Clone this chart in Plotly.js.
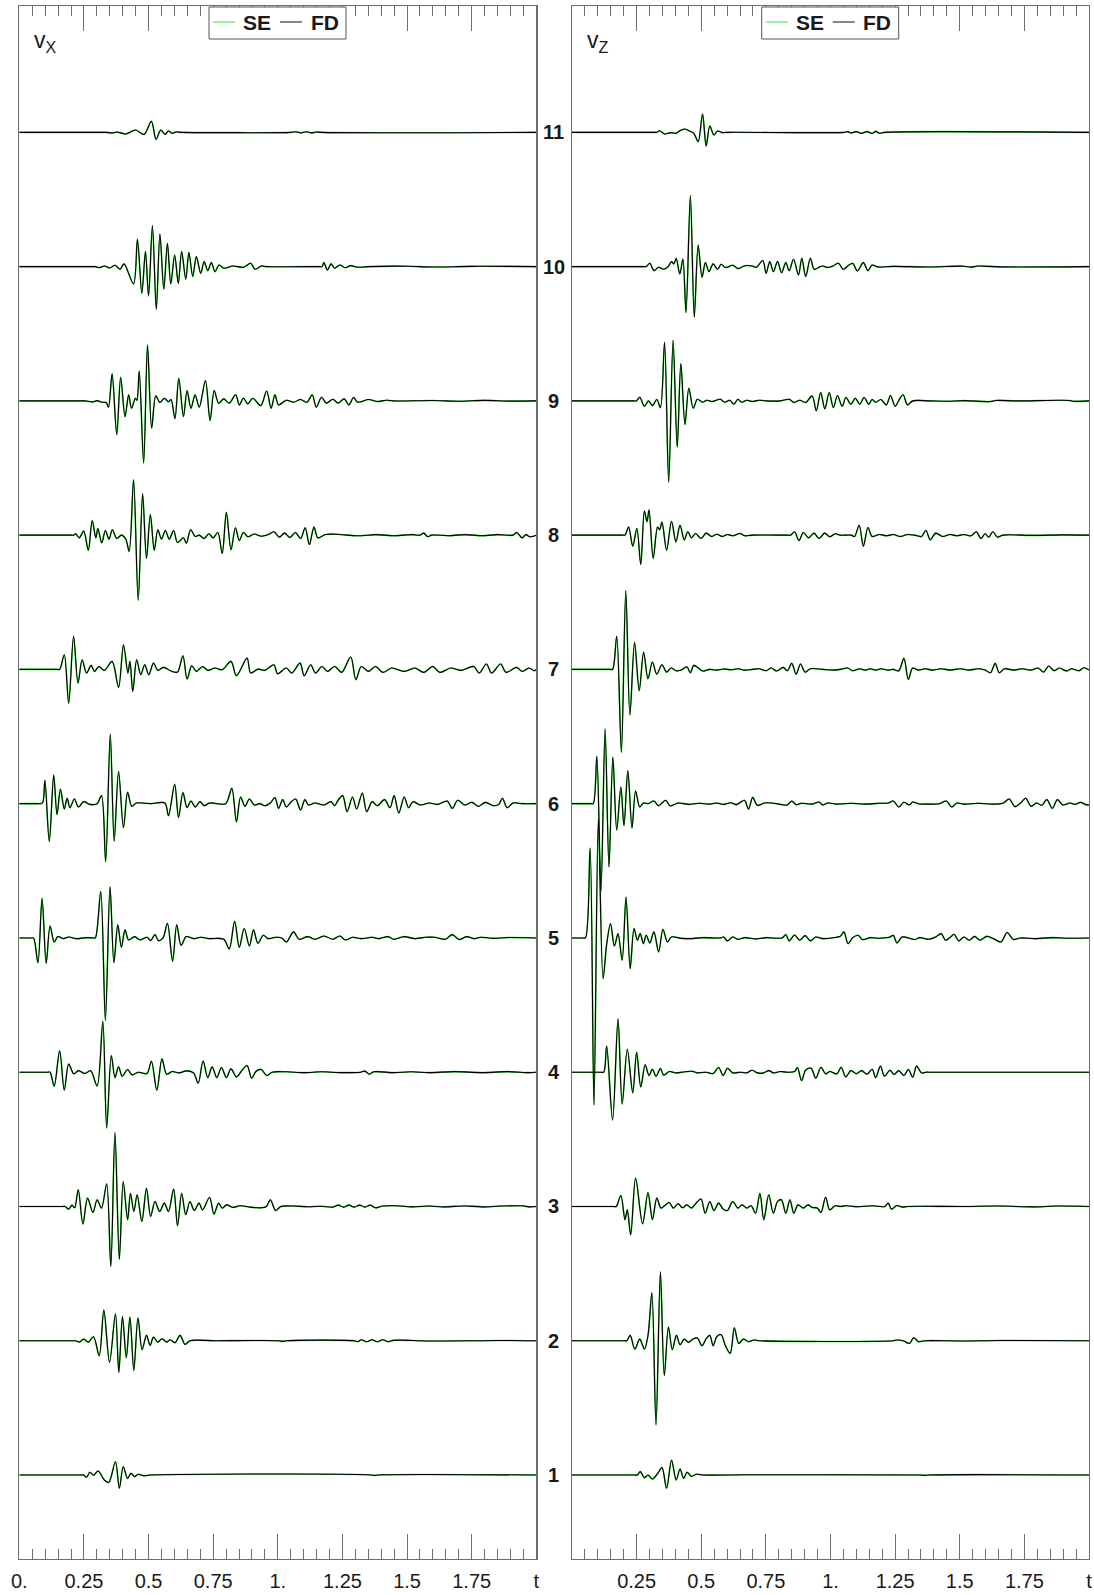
<!DOCTYPE html>
<html><head><meta charset="utf-8">
<script src="https://cdn.plot.ly/plotly-3.0.1.min.js"></script>
<style>html,body{margin:0;padding:0;background:#fff}#chart{width:1094px;height:1595px}</style>
</head><body><div id="chart"></div>
<script>
// ---------- data (time t, amplitude in trace-spacing units) ----------
const receivers = [1,2,3,4,5,6,7,8,9,10,11];
const tickValsVx = [0,0.25,0.5,0.75,1,1.25,1.5,1.75,2];
const tickTextVx = ['0.','0.25','0.5','0.75','1.','1.25','1.5','1.75','t'];
const tickValsVz = [0.25,0.5,0.75,1,1.25,1.5,1.75,2];
const tickTextVz = ['0.25','0.5','0.75','1.','1.25','1.5','1.75','t'];
const seriesNames = ['SE','FD'];

// v_x component, receivers 1..11
const vx1 = [[0,0],[0.239,0],[0.249,0],[0.260,-0.017],[0.273,0.020],[0.287,-0.002],[0.305,0.030],[0.329,-0.037],[0.346,-0.055],[0.372,0.099],[0.387,-0.099],[0.402,0.062],[0.419,-0.025],[0.432,0.012],[0.446,-0.012],[0.460,0.005],[0.481,-0.005],[0.508,0],[1.365,0],[1.372,-0.004],[1.385,0],[2,0]];
const vx2 = [[0,0],[0.208,0],[0.218,0],[0.232,-0.010],[0.249,0.012],[0.267,-0.010],[0.287,0.030],[0.309,-0.112],[0.327,0.228],[0.349,-0.161],[0.372,0.201],[0.385,-0.236],[0.399,0.181],[0.414,-0.127],[0.428,0.176],[0.443,-0.221],[0.459,0.171],[0.475,-0.067],[0.492,0.040],[0.506,-0.035],[0.519,0.027],[0.536,-0.010],[0.552,0.015],[0.570,-0.010],[0.584,0.007],[0.602,-0.015],[0.622,0.040],[0.641,-0.027],[0.660,0],[0.757,0],[1.005,0],[1.019,-0.005],[1.033,0],[1.295,0],[1.309,-0.007],[1.323,0.007],[1.344,-0.007],[1.365,0.007],[1.385,-0.007],[1.406,0.007],[1.427,-0.007],[1.448,0.003],[1.586,-0.002],[1.862,0.002],[2,0]];
const vx3 = [[0,0],[0.167,0],[0.177,0],[0.191,-0.020],[0.204,0.010],[0.214,-0.010],[0.228,0.124],[0.246,-0.131],[0.264,0.062],[0.285,-0.045],[0.301,0.050],[0.318,-0.012],[0.338,0.169],[0.354,-0.447],[0.370,0.551],[0.387,-0.392],[0.402,0.186],[0.419,-0.099],[0.430,0.099],[0.443,-0.037],[0.456,0.087],[0.474,-0.112],[0.492,0.136],[0.508,-0.074],[0.525,0.037],[0.543,-0.037],[0.561,0.025],[0.577,-0.037],[0.597,0.129],[0.612,-0.144],[0.628,0.099],[0.644,-0.062],[0.660,0.037],[0.677,-0.030],[0.695,0.025],[0.709,-0.025],[0.736,0.069],[0.753,-0.057],[0.771,0.025],[0.785,-0.012],[0.802,0.012],[0.826,-0.007],[0.853,0.005],[0.895,-0.005],[0.936,-0.010],[0.956,0],[0.971,0.050],[0.992,-0.030],[1.012,0],[1.061,0.003],[1.116,-0.002],[1.171,0.002],[1.213,-0.005],[1.234,0.010],[1.254,-0.005],[1.275,0.010],[1.296,-0.005],[1.316,0.010],[1.337,-0.005],[1.358,0.010],[1.378,-0.010],[1.406,0.003],[1.461,0.005],[1.517,-0.003],[1.586,0.003],[1.641,-0.003],[1.724,0.004],[1.793,-0.003],[1.862,0.003],[1.945,0.005],[1.972,-0.003],[2,0]];
const vx4 = [[0,0],[0.109,0],[0.119,0],[0.135,-0.104],[0.156,0.159],[0.174,-0.134],[0.191,0.060],[0.211,-0.012],[0.229,0.012],[0.253,-0.010],[0.276,0.010],[0.301,-0.102],[0.323,0.380],[0.338,-0.415],[0.356,0.124],[0.370,-0.040],[0.384,0.040],[0.398,-0.030],[0.419,0.020],[0.436,-0.020],[0.460,0],[0.494,-0.010],[0.511,0.082],[0.532,-0.134],[0.552,0.099],[0.570,-0.015],[0.591,0.005],[0.619,-0.005],[0.646,0.010],[0.674,-0.005],[0.692,-0.082],[0.711,0.084],[0.729,-0.040],[0.746,0.040],[0.764,-0.040],[0.782,0.035],[0.801,-0.040],[0.819,0.025],[0.840,-0.035],[0.860,0.010],[0.881,0.050],[0.899,-0.045],[0.915,0.005],[0.936,0.020],[0.957,-0.025],[0.978,0],[1.033,0.003],[1.102,-0.003],[1.171,0.003],[1.240,-0.003],[1.320,0],[1.337,0.008],[1.354,-0.015],[1.371,0.003],[1.448,-0.003],[1.517,0.003],[1.586,-0.003],[1.682,0.004],[1.793,-0.003],[1.890,0.004],[1.972,-0.003],[2,0]];
const vx5 = [[0,0],[0.045,0],[0.055,0],[0.072,-0.184],[0.088,0.295],[0.104,-0.189],[0.119,0.089],[0.135,-0.030],[0.149,0.010],[0.170,-0.005],[0.191,0.007],[0.218,-0.005],[0.260,0.002],[0.285,0],[0.294,0],[0.315,0.345],[0.333,-0.615],[0.351,0.380],[0.366,-0.184],[0.381,0.097],[0.395,-0.070],[0.409,0.060],[0.423,-0.015],[0.446,0.010],[0.467,-0.015],[0.494,0.005],[0.508,-0.020],[0.525,0.025],[0.538,-0.020],[0.556,0],[0.573,0.109],[0.593,-0.174],[0.609,0.097],[0.626,-0.055],[0.646,0.010],[0.674,-0.005],[0.702,0.005],[0.736,-0.005],[0.791,-0.010],[0.812,-0.082],[0.833,0.124],[0.851,-0.070],[0.870,0.070],[0.890,-0.060],[0.906,0.060],[0.923,-0.040],[0.944,0.020],[0.962,-0.005],[0.992,0.005],[1.015,0],[1.033,-0.030],[1.061,0.045],[1.082,-0.010],[1.116,0.010],[1.144,-0.010],[1.178,0.015],[1.213,-0.010],[1.240,0.015],[1.261,-0.015],[1.289,0.005],[1.323,-0.005],[1.365,0.005],[1.392,-0.005],[1.427,0.010],[1.448,-0.010],[1.489,0.010],[1.530,-0.005],[1.572,0.005],[1.606,0.005],[1.648,-0.010],[1.675,0.025],[1.702,-0.012],[1.730,0.010],[1.758,-0.005],[1.786,0.005],[1.834,-0.003],[1.890,0.003],[2,0]];
const vx6 = [[0,0],[0.073,0],[0.083,0],[0.091,0.010],[0.099,0.174],[0.116,-0.283],[0.133,0.213],[0.146,-0.082],[0.159,0.109],[0.174,-0.040],[0.185,0.040],[0.196,-0.030],[0.213,0.035],[0.229,-0.025],[0.249,0.015],[0.273,-0.005],[0.301,0],[0.318,0.060],[0.334,-0.432],[0.352,0.518],[0.367,-0.280],[0.384,0.241],[0.403,-0.179],[0.419,0.084],[0.435,-0.020],[0.453,0.005],[0.508,0],[0.563,0.005],[0.577,-0.089],[0.601,0.144],[0.616,-0.102],[0.633,0.082],[0.649,-0.030],[0.664,0.020],[0.681,-0.025],[0.699,0.015],[0.715,-0.015],[0.736,0.005],[0.798,0],[0.822,0.114],[0.840,-0.136],[0.856,0.050],[0.873,-0.020],[0.890,0.035],[0.909,-0.010],[0.930,0],[0.950,-0.015],[0.971,0.005],[0.989,0.045],[1.003,-0.035],[1.019,0.030],[1.033,-0.025],[1.050,0.010],[1.069,0.035],[1.088,-0.047],[1.105,0.030],[1.119,-0.010],[1.144,0.005],[1.178,-0.010],[1.206,0.015],[1.220,-0.015],[1.233,0.025],[1.251,0.060],[1.268,-0.060],[1.289,0.050],[1.305,-0.040],[1.327,0.080],[1.344,-0.060],[1.365,0.015],[1.385,-0.015],[1.413,0.030],[1.434,-0.030],[1.450,0.060],[1.468,-0.070],[1.489,0.050],[1.506,-0.030],[1.523,0.015],[1.551,-0.010],[1.586,0.005],[1.620,-0.005],[1.655,0.020],[1.675,-0.035],[1.696,0.025],[1.724,-0.010],[1.751,0.010],[1.776,-0.020],[1.803,0.010],[1.834,-0.015],[1.855,-0.005],[1.869,0.040],[1.887,-0.030],[1.910,0.005],[1.945,0],[2,0]];
const vx7 = [[0,0],[0.146,0],[0.156,0],[0.174,0.109],[0.191,-0.251],[0.210,0.246],[0.227,-0.102],[0.243,0.072],[0.260,-0.027],[0.278,0.030],[0.291,-0.015],[0.308,0.022],[0.329,-0.007],[0.359,0.060],[0.384,-0.134],[0.403,0.184],[0.420,-0.027],[0.428,0.060],[0.439,-0.164],[0.454,0.072],[0.470,-0.040],[0.485,0.035],[0.501,-0.040],[0.519,0.047],[0.536,-0.007],[0.557,0.015],[0.591,-0.015],[0.612,-0.020],[0.633,0.102],[0.649,-0.072],[0.667,0.027],[0.685,-0.015],[0.709,0.022],[0.729,-0.007],[0.757,0.010],[0.785,-0.002],[0.819,0.060],[0.840,-0.047],[0.881,0.084],[0.895,-0.027],[0.923,0.002],[0.950,-0.007],[0.985,0.035],[0.999,-0.032],[1.033,0.010],[1.054,-0.027],[1.086,0.047],[1.102,-0.047],[1.127,0.035],[1.146,-0.027],[1.171,0.022],[1.192,-0.015],[1.220,0.022],[1.247,-0.022],[1.282,0.092],[1.302,-0.077],[1.323,0.022],[1.351,-0.015],[1.378,0.022],[1.406,-0.022],[1.441,0.010],[1.489,-0.015],[1.530,0.010],[1.565,-0.022],[1.599,0.022],[1.627,-0.022],[1.669,0.010],[1.710,-0.007],[1.758,0.022],[1.779,-0.027],[1.807,0.040],[1.827,-0.027],[1.862,0.040],[1.883,-0.022],[1.924,0.015],[1.945,-0.015],[1.972,0.010],[1.993,-0.010],[2,0]];
const vx8 = [[0,0],[0.201,0],[0.211,0],[0.218,0.010],[0.232,-0.020],[0.249,0.030],[0.267,-0.112],[0.282,0.109],[0.296,-0.020],[0.304,0.050],[0.319,-0.057],[0.333,0.035],[0.347,-0.030],[0.360,0.040],[0.377,-0.025],[0.395,0],[0.412,-0.030],[0.425,-0.122],[0.442,0.412],[0.460,-0.486],[0.477,0.310],[0.492,-0.174],[0.507,0.154],[0.522,-0.112],[0.536,0.040],[0.550,-0.030],[0.565,0.035],[0.580,-0.030],[0.597,0.035],[0.612,-0.055],[0.635,-0.020],[0.646,-0.060],[0.663,0.040],[0.681,-0.010],[0.696,0],[0.715,-0.025],[0.733,0.010],[0.750,-0.020],[0.768,0.020],[0.785,-0.137],[0.801,0.171],[0.819,-0.109],[0.836,0.055],[0.851,-0.040],[0.867,0.020],[0.884,-0.012],[0.909,0.008],[0.936,-0.008],[0.964,0.005],[0.985,0.025],[1.006,-0.015],[1.026,0.015],[1.047,-0.017],[1.068,0.020],[1.088,-0.025],[1.106,0.055],[1.122,-0.070],[1.140,0.060],[1.155,-0.020],[1.185,0.005],[1.240,0.005],[1.309,-0.005],[1.380,0.004],[1.448,-0.004],[1.520,0.004],[1.550,0],[1.565,0.015],[1.580,-0.012],[1.595,0],[1.660,-0.004],[1.724,0.004],[1.790,-0.004],[1.850,0.004],[1.910,0],[1.924,0.020],[1.945,-0.020],[1.960,0.004],[1.975,-0.012],[2,0]];
const vx9 = [[0,0],[0.243,0],[0.253,0],[0.285,-0.007],[0.301,0.002],[0.319,-0.010],[0.336,-0.012],[0.345,-0.047],[0.359,0.201],[0.377,-0.253],[0.392,0.176],[0.409,-0.117],[0.423,0.045],[0.434,-0.055],[0.449,0.020],[0.455,0.005],[0.464,0.223],[0.481,-0.464],[0.496,0.417],[0.512,-0.203],[0.528,0.037],[0.544,-0.012],[0.561,0.020],[0.577,-0.007],[0.587,0.010],[0.602,-0.132],[0.617,0.169],[0.635,-0.117],[0.649,0.077],[0.664,-0.055],[0.680,0.045],[0.696,-0.047],[0.720,0.151],[0.738,-0.146],[0.754,0.077],[0.771,-0.017],[0.791,0.015],[0.812,-0.017],[0.837,0.045],[0.851,-0.030],[0.867,0.020],[0.884,-0.022],[0.903,0.020],[0.934,-0.035],[0.957,0.074],[0.974,-0.055],[0.989,0.045],[1.003,-0.030],[1.033,0.005],[1.061,-0.010],[1.088,0.010],[1.113,-0.010],[1.133,0.045],[1.149,-0.047],[1.169,0.027],[1.188,-0.017],[1.213,0.012],[1.233,-0.017],[1.257,0.015],[1.275,-0.030],[1.293,0.025],[1.309,-0.010],[1.351,0.010],[1.385,-0.005],[1.420,0.005],[1.448,0],[1.600,0.003],[1.700,-0.003],[1.800,0.004],[1.900,-0.002],[2,0]];
const vx10 = [[0,0],[0.284,0],[0.294,0],[0.310,-0.008],[0.330,0.005],[0.350,-0.010],[0.370,0.010],[0.390,-0.020],[0.405,0.020],[0.442,-0.129],[0.457,0.203],[0.474,-0.199],[0.488,0.112],[0.500,-0.218],[0.515,0.305],[0.530,-0.318],[0.544,0.243],[0.559,-0.169],[0.573,0.174],[0.586,-0.129],[0.601,0.087],[0.615,-0.124],[0.628,0.112],[0.644,-0.094],[0.656,0.104],[0.671,-0.074],[0.685,0.074],[0.702,-0.050],[0.715,0.037],[0.729,-0.030],[0.743,0.030],[0.757,-0.037],[0.773,0.012],[0.791,-0.012],[0.826,0.005],[0.867,-0.005],[0.895,0.025],[0.912,-0.020],[0.936,0.005],[0.955,0],[1.160,0],[1.171,0],[1.178,0.030],[1.192,-0.025],[1.206,0.020],[1.220,-0.012],[1.240,0.012],[1.261,-0.008],[1.282,0.007],[1.309,-0.005],[1.350,0],[1.500,0.003],[1.600,-0.003],[1.750,0.002],[2,0]];
const vx11 = [[0,0],[0.326,0],[0.336,0],[0.360,-0.005],[0.377,0.003],[0.412,-0.012],[0.450,0.017],[0.483,-0.015],[0.511,0.082],[0.529,-0.052],[0.547,0.017],[0.564,-0.015],[0.577,0.010],[0.591,-0.007],[0.605,0.002],[0.626,0],[1.050,0],[1.070,0.004],[1.090,-0.004],[1.110,0.004],[1.130,-0.004],[1.150,0.003],[1.170,0],[2,0]];

// v_z component, receivers 1..11
const vz1 = [[0,0],[0.243,0],[0.253,0],[0.264,0.025],[0.280,-0.020],[0.294,0],[0.311,-0.030],[0.331,0.010],[0.348,0.055],[0.366,-0.099],[0.385,0.112],[0.403,-0.037],[0.418,0.045],[0.432,-0.025],[0.445,0.020],[0.462,-0.010],[0.481,0.005],[0.505,0],[0.669,0.002],[1.340,0],[1.352,0],[1.366,-0.003],[1.380,0],[2,0]];
const vz2 = [[0,0],[0.202,0],[0.212,0],[0.225,0.040],[0.243,-0.062],[0.262,0.012],[0.280,-0.062],[0.294,0.040],[0.309,0.357],[0.325,-0.627],[0.342,0.514],[0.357,-0.260],[0.373,0.102],[0.388,-0.067],[0.404,0.040],[0.418,-0.030],[0.434,0.012],[0.451,-0.012],[0.467,0.012],[0.485,0.020],[0.503,-0.037],[0.519,0.015],[0.533,0.040],[0.546,-0.037],[0.560,0.030],[0.577,0.045],[0.594,-0.040],[0.612,-0.094],[0.628,0.097],[0.645,-0.020],[0.663,0.012],[0.683,-0.007],[0.704,0.005],[0.724,0],[1.243,0],[1.257,0.005],[1.284,-0.002],[1.305,-0.020],[1.322,0.022],[1.341,-0.007],[1.366,0],[1.516,-0.002],[1.653,0.002],[2,0]];
const vz3 = [[0,0],[0.161,0],[0.171,0],[0.189,0.082],[0.205,-0.099],[0.214,-0.025],[0.227,-0.211],[0.246,0.211],[0.273,-0.129],[0.294,0.104],[0.311,-0.099],[0.328,0.062],[0.344,-0.012],[0.358,0.005],[0.376,0.030],[0.392,-0.012],[0.410,0.020],[0.428,-0.010],[0.444,0.012],[0.462,-0.012],[0.478,0.020],[0.499,0.055],[0.515,-0.050],[0.533,0.037],[0.549,-0.030],[0.567,0.025],[0.585,-0.020],[0.601,-0.030],[0.622,0.037],[0.642,-0.012],[0.658,0.012],[0.676,-0.012],[0.693,0.005],[0.710,-0.050],[0.727,0.099],[0.742,-0.099],[0.761,0.087],[0.779,-0.050],[0.795,0.037],[0.810,0.050],[0.827,-0.050],[0.843,0.050],[0.858,-0.050],[0.874,0.012],[0.895,-0.012],[0.913,0.012],[0.929,-0.007],[0.949,-0.012],[0.963,-0.045],[0.981,0.069],[0.997,-0.025],[1.018,0.005],[1.038,0],[1.059,0.005],[1.107,-0.002],[1.161,0.005],[1.210,0],[1.223,0.025],[1.236,-0.020],[1.257,0.007],[1.277,-0.005],[1.298,0],[1.516,0],[1.653,0.003],[1.790,-0.003],[1.872,0.003],[2,0]];
const vz4 = [[0,0],[0.113,0],[0.123,0],[0.134,0.194],[0.157,-0.357],[0.178,0.397],[0.194,-0.238],[0.214,0.171],[0.235,-0.154],[0.250,0.149],[0.266,-0.110],[0.283,0.055],[0.298,-0.025],[0.311,0.022],[0.325,-0.030],[0.342,0.027],[0.355,-0.022],[0.376,0.005],[0.403,-0.005],[0.430,0.002],[0.464,0.007],[0.485,-0.005],[0.519,0],[0.546,-0.010],[0.567,0.035],[0.585,-0.025],[0.601,0.030],[0.622,-0.005],[0.649,0],[0.676,-0.005],[0.697,0.015],[0.717,-0.005],[0.738,-0.007],[0.762,0.012],[0.779,-0.005],[0.806,0.005],[0.833,0],[0.861,0.005],[0.872,0.035],[0.888,-0.062],[0.904,0.015],[0.925,0.030],[0.943,-0.045],[0.963,0.037],[0.981,-0.012],[0.997,0.005],[1.025,-0.012],[1.041,0.037],[1.059,-0.035],[1.079,0.012],[1.100,-0.012],[1.120,0.012],[1.141,-0.015],[1.161,0.022],[1.175,-0.040],[1.193,0.045],[1.209,-0.030],[1.230,0.015],[1.246,-0.017],[1.264,0.012],[1.284,-0.025],[1.301,0.020],[1.318,-0.037],[1.333,0.045],[1.352,-0.005],[1.370,0],[1.390,0],[2,0]];
const vz5 = [[0,0],[0.042,0],[0.052,0],[0.070,0.670],[0.085,-1.245],[0.102,0.883],[0.120,-0.303],[0.134,-0.050],[0.149,0.107],[0.164,-0.060],[0.178,0.032],[0.194,-0.166],[0.209,0.305],[0.225,-0.228],[0.240,0.070],[0.253,-0.017],[0.264,0.032],[0.276,-0.042],[0.287,0.020],[0.301,-0.037],[0.317,0.045],[0.335,-0.104],[0.352,0.065],[0.369,-0.030],[0.385,0.007],[0.423,-0.003],[0.464,-0.005],[0.505,0.002],[0.575,0],[0.587,0.007],[0.601,-0.022],[0.622,0.007],[0.642,-0.010],[0.669,0.002],[0.710,-0.007],[0.751,0.002],[0.813,0],[0.827,0.025],[0.840,-0.022],[0.861,0.022],[0.881,-0.017],[0.902,0.017],[0.922,-0.022],[0.943,0.007],[0.970,-0.005],[1.011,0.002],[1.038,0.012],[1.052,0.045],[1.068,-0.042],[1.086,0.002],[1.107,0.020],[1.123,-0.012],[1.154,0.002],[1.189,-0.002],[1.230,0.007],[1.243,0.020],[1.257,-0.037],[1.277,0.007],[1.298,0.002],[1.325,-0.012],[1.346,0.002],[1.380,-0.010],[1.407,0.007],[1.428,0.032],[1.445,-0.017],[1.462,0.002],[1.478,0.027],[1.496,-0.022],[1.516,0.007],[1.537,-0.017],[1.557,0.012],[1.578,-0.017],[1.605,0.012],[1.632,-0.007],[1.660,-0.030],[1.683,0.040],[1.708,-0.012],[1.735,0],[1.790,-0.005],[1.858,0.002],[1.926,-0.002],[2,0]];
const vz6 = [[0,0],[0.072,0],[0.082,0],[0.096,0.352],[0.112,-0.653],[0.128,0.558],[0.143,-0.471],[0.158,0.347],[0.173,-0.198],[0.189,0.124],[0.201,-0.164],[0.216,0.246],[0.232,-0.181],[0.246,0.094],[0.262,-0.025],[0.276,0.005],[0.294,0],[0.317,0.020],[0.335,-0.015],[0.362,0.025],[0.380,-0.017],[0.410,0.005],[0.451,-0.005],[0.492,0.003],[0.533,-0.003],[0.560,0.005],[0.587,-0.005],[0.615,0.007],[0.635,-0.007],[0.649,0.007],[0.667,0.025],[0.683,-0.040],[0.699,0.047],[0.717,-0.012],[0.745,0.005],[0.772,0.005],[0.806,-0.005],[0.833,-0.010],[0.850,0.020],[0.867,-0.007],[0.888,0.003],[0.929,-0.003],[0.956,0.012],[0.970,-0.010],[0.990,0.005],[1.025,-0.003],[1.079,0.003],[1.134,-0.003],[1.189,0.003],[1.223,0.005],[1.243,0.020],[1.264,-0.025],[1.284,0.010],[1.305,-0.010],[1.318,0.012],[1.339,0],[1.380,-0.003],[1.421,0],[1.448,0.020],[1.469,-0.025],[1.489,0.005],[1.516,-0.003],[1.571,0.003],[1.626,-0.003],[1.667,0.003],[1.691,0.035],[1.714,-0.022],[1.738,0.010],[1.755,0.040],[1.776,-0.020],[1.796,0.005],[1.817,-0.012],[1.837,0.030],[1.858,-0.035],[1.878,0.030],[1.899,-0.010],[1.926,0.005],[1.947,-0.005],[1.967,0.010],[1.988,-0.007],[2,-0.012]];
const vz7 = [[0,0],[0.147,0],[0.157,0],[0.173,0.246],[0.191,-0.618],[0.208,0.588],[0.224,-0.340],[0.242,0.201],[0.260,-0.159],[0.277,0.127],[0.294,-0.070],[0.311,0.055],[0.328,-0.035],[0.348,0.035],[0.366,-0.020],[0.383,0.010],[0.403,-0.010],[0.423,-0.005],[0.444,0.020],[0.458,-0.025],[0.471,0.030],[0.489,0.010],[0.505,-0.012],[0.533,0],[0.560,-0.005],[0.587,0.003],[0.615,-0.003],[0.642,0.005],[0.669,-0.005],[0.697,0],[0.724,0.005],[0.751,-0.010],[0.771,0.010],[0.792,-0.012],[0.817,0.015],[0.833,-0.010],[0.850,0.045],[0.867,-0.035],[0.884,0.040],[0.902,-0.020],[0.922,0.005],[0.970,0],[1.011,-0.005],[1.038,0],[1.066,0.010],[1.086,-0.010],[1.113,0.005],[1.134,-0.005],[1.154,0.005],[1.175,-0.005],[1.195,0.005],[1.223,-0.005],[1.243,0],[1.264,-0.010],[1.284,0.082],[1.301,-0.074],[1.318,0.010],[1.339,-0.005],[1.366,0.005],[1.393,-0.005],[1.428,0.005],[1.462,-0.005],[1.503,0.005],[1.537,-0.005],[1.571,0.005],[1.598,-0.005],[1.619,-0.025],[1.637,0.045],[1.653,-0.025],[1.673,0.005],[1.708,-0.005],[1.742,0.005],[1.776,-0.005],[1.803,0.010],[1.824,-0.020],[1.844,0.025],[1.865,-0.010],[1.885,0.010],[1.913,-0.012],[1.933,0.005],[1.961,-0.010],[1.980,0.012],[2,-0.005]];
const vz8 = [[0,0],[0.195,0],[0.205,0],[0.219,0.060],[0.235,-0.082],[0.251,0.050],[0.266,-0.218],[0.280,0.179],[0.290,0.100],[0.298,0.188],[0.314,-0.174],[0.331,0.060],[0.339,0.040],[0.348,0.097],[0.366,-0.112],[0.385,0.104],[0.402,-0.050],[0.418,0.074],[0.434,-0.035],[0.448,0.025],[0.462,-0.020],[0.478,0.012],[0.499,-0.025],[0.519,0.015],[0.540,-0.010],[0.560,0.007],[0.581,-0.010],[0.601,0.005],[0.622,-0.005],[0.649,0.012],[0.669,-0.005],[0.697,0],[0.833,0],[0.846,0],[0.861,0.025],[0.878,-0.040],[0.895,0.020],[0.915,-0.020],[0.936,0.015],[0.956,-0.025],[0.977,0.015],[0.997,-0.012],[1.018,0.010],[1.038,0],[1.080,0],[1.093,-0.010],[1.111,0.074],[1.127,-0.082],[1.145,0.057],[1.161,-0.010],[1.189,0.005],[1.216,-0.005],[1.243,0.005],[1.270,-0.010],[1.298,0.005],[1.325,0],[1.352,-0.010],[1.369,0.035],[1.386,-0.035],[1.407,0.015],[1.434,-0.010],[1.462,0.005],[1.489,-0.005],[1.516,0.005],[1.544,-0.005],[1.564,0.025],[1.582,-0.025],[1.598,0.010],[1.612,-0.015],[1.628,0.025],[1.646,-0.015],[1.667,0],[1.790,-0.002],[1.899,0.002],[2,0]];
const vz9 = [[0,0],[0.239,0],[0.249,0],[0.262,0.027],[0.280,-0.040],[0.296,0],[0.311,-0.035],[0.328,0.010],[0.342,-0.050],[0.358,0.437],[0.374,-0.605],[0.391,0.452],[0.407,-0.345],[0.421,0.278],[0.437,-0.176],[0.452,0.094],[0.469,-0.055],[0.485,0.012],[0.505,-0.010],[0.522,0.005],[0.540,-0.005],[0.574,0.012],[0.590,-0.010],[0.611,0.005],[0.626,-0.025],[0.642,0.012],[0.656,-0.010],[0.676,0.005],[0.697,-0.005],[0.724,0.005],[0.751,0],[0.806,0],[0.840,0.012],[0.858,-0.012],[0.881,0.005],[0.904,-0.012],[0.929,0.037],[0.945,-0.074],[0.962,0.062],[0.978,-0.060],[0.995,0.062],[1.011,-0.050],[1.027,0.040],[1.045,-0.040],[1.060,0.025],[1.079,-0.025],[1.096,0.020],[1.113,-0.025],[1.130,0.025],[1.148,-0.025],[1.161,0.010],[1.175,-0.010],[1.195,0.010],[1.216,-0.030],[1.232,0.040],[1.250,-0.040],[1.268,0.017],[1.281,0.045],[1.298,-0.030],[1.318,0],[1.380,0],[1.448,-0.003],[1.516,0.002],[1.619,-0.005],[1.639,0.003],[1.721,0],[1.926,0.003],[1.940,-0.003],[2,0]];
const vz10 = [[0,0],[0.277,0],[0.287,0],[0.301,0.025],[0.317,-0.030],[0.335,-0.005],[0.355,-0.020],[0.372,0],[0.385,0.037],[0.394,0.020],[0.403,0.062],[0.417,-0.055],[0.429,0.057],[0.441,-0.342],[0.458,0.529],[0.473,-0.377],[0.488,0.161],[0.503,-0.079],[0.516,0.030],[0.530,-0.037],[0.546,0.020],[0.563,-0.020],[0.577,0.017],[0.594,-0.007],[0.622,0.010],[0.642,-0.015],[0.669,0.007],[0.697,0.005],[0.713,-0.005],[0.738,0.045],[0.751,-0.050],[0.765,0.037],[0.779,-0.037],[0.795,0.037],[0.811,-0.045],[0.827,0.030],[0.840,-0.030],[0.857,0.055],[0.876,-0.062],[0.889,0.062],[0.904,-0.074],[0.922,0.062],[0.937,-0.020],[0.956,-0.005],[0.970,0.005],[0.990,-0.007],[1.011,0.007],[1.031,0.025],[1.049,-0.020],[1.068,0.007],[1.086,0.025],[1.104,-0.032],[1.127,0.030],[1.145,-0.030],[1.161,0.012],[1.182,-0.002],[1.243,0.002],[1.380,-0.003],[1.516,0.003],[1.544,-0.004],[1.571,0.004],[1.653,-0.002],[2,0]];
const vz11 = [[0,0],[0.318,0],[0.328,0],[0.339,0.012],[0.358,-0.012],[0.383,-0.002],[0.403,-0.007],[0.417,0.012],[0.437,0.025],[0.454,0.010],[0.471,-0.007],[0.488,-0.069],[0.505,0.136],[0.519,-0.102],[0.533,0.047],[0.549,-0.020],[0.563,0.010],[0.581,-0.002],[0.601,0],[1.052,0],[1.066,0.005],[1.079,-0.005],[1.100,0.005],[1.120,-0.008],[1.141,0.005],[1.161,-0.008],[1.175,0.007],[1.189,-0.007],[1.209,0],[2,0]];

const vxData = [vx1,vx2,vx3,vx4,vx5,vx6,vx7,vx8,vx9,vx10,vx11];
const vzData = [vz1,vz2,vz3,vz4,vz5,vz6,vz7,vz8,vz9,vz10,vz11];

// ---------- styling ----------
const FONT = 'Liberation Sans, Arial, Helvetica, sans-serif';
const TXT = '#1a1a1a';
const FRAME = '#6e6e6e';
const lineStyle = {
  SE: {color:'#30d830', width:1.6, legendColor:'#6af06a'},
  FD: {color:'#000000', width:1.1, legendColor:'#555555'}
};

function makeTraces(data, xa, ya){
  const out = [];
  seriesNames.forEach(s => {
    data.forEach((pts, i) => {
      out.push({
        type:'scatter', mode:'lines',
        x: pts.map(p => p[0]),
        y: pts.map(p => receivers[i] + p[1]),
        xaxis: xa, yaxis: ya,
        name: s, showlegend: false,
        line: {color: lineStyle[s].color, width: lineStyle[s].width, shape:'spline', smoothing:0.9},
        hoverinfo:'skip'
      });
    });
  });
  return out;
}

const traces = makeTraces(vxData,'x','y').concat(makeTraces(vzData,'x2','y2'));

const W = 1094, H = 1595;
const PLOT_TOP = 6, PLOT_BOTTOM = 1559;
const yRange = [0.3744, 11.941];
const py = v => (PLOT_BOTTOM - v) / (PLOT_BOTTOM - PLOT_TOP); // pixel row -> paper y

function xAxis(domain, tickvals, ticktext, anchor){
  return {
    domain: domain, range:[0,2], anchor: anchor,
    tickmode:'array', tickvals: tickvals, ticktext: ticktext,
    ticks:'inside', ticklen:25, tickwidth:1, tickcolor:FRAME,
    minor:{tickmode:'linear', tick0:0, dtick:0.05, ticks:'inside', ticklen:10, tickwidth:1, tickcolor:FRAME},
    showline:true, linecolor:FRAME, linewidth:1.2, mirror:'ticks',
    showgrid:false, zeroline:false, fixedrange:true,
    tickfont:{family:FONT, size:20, color:TXT},
    ticklabelstandoff: 4
  };
}
function yAxis(anchor){
  return {
    domain:[0,1], range:yRange, anchor: anchor,
    showline:true, linecolor:FRAME, linewidth:1.2, mirror:true,
    ticks:'', showticklabels:false, showgrid:false, zeroline:false, fixedrange:true
  };
}

const xL = [19.3/W, 536.3/W];
const xR = [572/W, 1089/W];
const panelShift = [0, 552.7];   // pixel offset of each panel's legend box

// receiver numbers between the panels
const annotations = receivers.map(r => ({
  xref:'paper', yref:'y', x:553.6/W, y:r, text:String(r), showarrow:false,
  xanchor:'center', yanchor:'middle',
  font:{family:FONT, size:20, color:TXT, weight:'bold'}
}));
// component labels
[['v<sub>X</sub>',32],['v<sub>Z</sub>',585]].forEach(([t,x]) => {
  annotations.push({xref:'paper', yref:'paper', x:x/W, y:py(42), text:t, showarrow:false,
    xanchor:'left', yanchor:'middle', font:{family:FONT, size:23, color:TXT}});
});

// legend boxes (one per panel)
const shapes = [];
panelShift.forEach(dx => {
  shapes.push({type:'rect', xref:'paper', yref:'paper', x0:(209+dx)/W, x1:(346+dx)/W, y0:py(39), y1:py(7),
    line:{color:'#555555', width:1}, fillcolor:'#ffffff', layer:'above'});
  const sampleX = [[213,235],[280,302]];
  const textX = [257,324.5];
  seriesNames.forEach((s, k) => {
    shapes.push({type:'line', xref:'paper', yref:'paper', x0:(sampleX[k][0]+dx)/W, x1:(sampleX[k][1]+dx)/W,
      y0:py(22), y1:py(22), line:{color:lineStyle[s].legendColor, width:1.4}, layer:'above'});
    annotations.push({xref:'paper', yref:'paper', x:(textX[k]+dx)/W, y:py(22.5), text:s, showarrow:false,
      xanchor:'center', yanchor:'middle', font:{family:FONT, size:21, color:TXT, weight:'bold'}});
  });
});

const layout = {
  width:W, height:H,
  margin:{l:0, r:0, t:PLOT_TOP, b:H-PLOT_BOTTOM, pad:0},
  paper_bgcolor:'#ffffff', plot_bgcolor:'#ffffff',
  showlegend:false,
  xaxis: xAxis(xL, tickValsVx, tickTextVx, 'y'),
  yaxis: yAxis('x'),
  xaxis2: xAxis(xR, tickValsVz, tickTextVz, 'y2'),
  yaxis2: yAxis('x2'),
  shapes: shapes,
  annotations: annotations
};

Plotly.newPlot('chart', traces, layout, {displayModeBar:false, staticPlot:true});
</script>
</body></html>
